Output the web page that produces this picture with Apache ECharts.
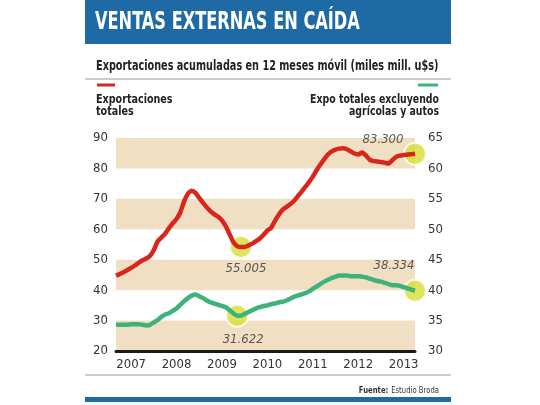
<!DOCTYPE html>
<html><head><meta charset="utf-8">
<script src="https://cdn.jsdelivr.net/npm/echarts@6/dist/echarts.min.js"></script>
<style>html,body{margin:0;padding:0;background:#fff}#c{width:540px;height:405px}</style>
</head><body><div id="c"></div>
<script>
const FONT = '"Liberation Sans Narrow","DejaVu Sans Condensed","Roboto Condensed",Arial,sans-serif';
// monthly categories, Mar 2007 .. Oct 2013
const months = [];
for (let y = 2007; y <= 2013; y++) for (let m = 1; m <= 12; m++) {
  if ((y === 2007 && m < 3) || (y === 2013 && m > 10)) continue;
  months.push(y + '-' + String(m).padStart(2, '0'));
}
const yearLabels = ['2007','2008','2009','2010','2011','2012','2013'];
const leftTicks = [20,30,40,50,60,70,80,90];
const rightTicks = [30,35,40,45,50,55,60,65];
// Exportaciones totales (miles mill. u$s)
const exportTotal = [44.7,45.3,45.9,46.6,47.3,48.1,49.0,49.8,50.4,51.3,
  53.2,56.0,57.3,58.6,60.4,62.0,63.4,65.6,69.2,71.7,
  72.7,72.0,70.3,68.7,67.2,65.9,64.9,64.1,62.9,61.0,
  58.4,55.8,54.5,54.2,54.2,54.7,55.3,56.1,57.0,58.2,
  59.6,60.5,62.8,64.8,66.4,67.3,68.2,69.3,70.8,72.3,
  73.9,75.5,77.3,79.4,81.3,83.0,84.6,85.6,86.2,86.5,
  86.6,86.3,85.6,84.9,84.6,85.2,84.3,82.9,82.4,82.3,
  82.1,81.9,81.6,82.7,83.8,84.2,84.4,84.6,84.7,84.8];
// Expo totales excluyendo agrícolas y autos
const exportExcl = [34.3,34.3,34.3,34.3,34.4,34.4,34.4,34.3,34.2,34.3,
  34.7,35.1,35.6,36.0,36.2,36.6,37.0,37.6,38.2,38.7,
  39.1,39.3,39.0,38.7,38.3,38.0,37.8,37.6,37.4,37.2,
  36.7,36.2,35.8,35.8,36.1,36.4,36.7,37.0,37.2,37.4,
  37.5,37.7,37.8,38.0,38.1,38.3,38.6,38.9,39.1,39.3,
  39.5,39.8,40.2,40.6,41.0,41.4,41.7,42.0,42.2,42.4,
  42.4,42.4,42.3,42.3,42.3,42.2,42.1,41.9,41.7,41.5,
  41.4,41.2,41.0,40.8,40.8,40.7,40.5,40.3,40.1,39.9];
const redNotes = ['55.005', '83.300'];
const greenNotes = ['31.622', '38.334'];
const troughWindow = ['2009-01', '2010-06'];

function minIdx(a){
  const s = months.indexOf(troughWindow[0]), e = months.indexOf(troughWindow[1]);
  let k = s; for (let i = s; i <= e; i++) if (a[i] < a[k]) k = i; return k;
}
const rMin = minIdx(exportTotal), gMin = minIdx(exportExcl);
const rLast = exportTotal.length-1, gLast = exportExcl.length-1;

const dotStyle = {color:'#d6df33', borderColor:'#fff', borderWidth:2};
const noteLabel = (pos, off) => ({show:true, position:pos, offset:off, fontStyle:'italic',
  fontFamily:FONT, fontSize:13, color:'#333', formatter: p => p.data.note});

const chart = echarts.init(document.getElementById('c'), null, {renderer:'canvas'});
chart.setOption({
  animation:false,
  backgroundColor:'#fff',
  grid:{left:116, right:125, top:138, bottom:54},
  xAxis:{type:'category', data:months, boundaryGap:false,
    axisLine:{show:true, lineStyle:{color:'#1a1a1a', width:3}},
    axisTick:{show:false}, splitLine:{show:false},
    axisLabel:{interval:(i,v)=>v.endsWith('-07'), formatter:v=>v.slice(0,4),
      color:'#333', fontSize:13, fontFamily:FONT, margin:7}},
  yAxis:[
    {type:'value', min:20, max:90, interval:10,
     axisLine:{show:false}, axisTick:{show:false}, splitLine:{show:false},
     splitArea:{show:true, areaStyle:{color:['#f1dfc3','rgba(255,255,255,0)']}},
     axisLabel:{color:'#333', fontSize:13, fontFamily:FONT, margin:8,
       formatter:v=>leftTicks.includes(v)?String(v):''}},
    {type:'value', min:30, max:65, interval:5,
     axisLine:{show:false}, axisTick:{show:false}, splitLine:{show:false},
     axisLabel:{color:'#333', fontSize:13, fontFamily:FONT, margin:13,
       formatter:v=>rightTicks.includes(v)?String(v):''}}
  ],
  series:[
    {type:'scatter', z:2, symbolSize:22, itemStyle:dotStyle, yAxisIndex:0,
     data:[
       {value:[rMin, exportTotal[rMin]], note:redNotes[0], label:noteLabel('bottom',[5,-2])},
       {value:[rLast, exportTotal[rLast]], note:redNotes[1], label:noteLabel('top',[-32,9])}
     ]},
    {type:'scatter', z:2, symbolSize:22, itemStyle:dotStyle, yAxisIndex:1,
     data:[
       {value:[gMin, exportExcl[gMin]], note:greenNotes[0], label:noteLabel('bottom',[6,0])},
       {value:[gLast, exportExcl[gLast]], note:greenNotes[1], label:noteLabel('top',[-21,-2])}
     ]},
    {type:'line', z:5, name:'Exportaciones totales', data:exportTotal, yAxisIndex:0,
     showSymbol:false, smooth:0.2, lineStyle:{color:'#d8261c', width:4.5}},
    {type:'line', z:5, name:'Expo totales excluyendo agrícolas y autos', data:exportExcl, yAxisIndex:1,
     showSymbol:false, smooth:0.2, lineStyle:{color:'#3cb37a', width:4.5}}
  ],
  graphic:[
    {type:'rect', shape:{x:85, y:0, width:366, height:44}, style:{fill:'#1d6aa5'}},
    {type:'text', x:95, y:23, scaleX:0.75, style:{text:'VENTAS EXTERNAS EN CAÍDA', fill:'#fff',
      font:'bold 24px '+FONT, textVerticalAlign:'middle'}},
    {type:'text', x:96, y:66, scaleX:0.77, style:{text:'Exportaciones acumuladas en 12 meses móvil (miles mill. u$s)',
      fill:'#222', font:'bold 14px '+FONT, textVerticalAlign:'middle'}},
    {type:'line', shape:{x1:85, y1:79, x2:451, y2:79}, style:{stroke:'#999', lineWidth:1}},
    {type:'line', shape:{x1:97, y1:85, x2:115, y2:85}, style:{stroke:'#d8261c', lineWidth:3}},
    {type:'line', shape:{x1:418, y1:85, x2:438, y2:85}, style:{stroke:'#3cb37a', lineWidth:3}},
    {type:'text', x:96, y:100, scaleX:0.82, style:{text:'Exportaciones', fill:'#222', font:'bold 13px '+FONT, textVerticalAlign:'middle'}},
    {type:'text', x:96, y:112, scaleX:0.82, style:{text:'totales', fill:'#222', font:'bold 13px '+FONT, textVerticalAlign:'middle'}},
    {type:'text', x:439, y:100, scaleX:0.8, style:{text:'Expo totales excluyendo', fill:'#222', font:'bold 13px '+FONT, textAlign:'right', textVerticalAlign:'middle'}},
    {type:'text', x:439, y:112, scaleX:0.8, style:{text:'agrícolas y autos', fill:'#222', font:'bold 13px '+FONT, textAlign:'right', textVerticalAlign:'middle'}},
    {type:'line', shape:{x1:85, y1:375, x2:451, y2:375}, style:{stroke:'#999', lineWidth:1}},
    {type:'text', x:439, y:391, scaleX:0.85, style:{rich:{b:{font:'bold 9px '+FONT, fill:'#333'}, n:{font:'9px '+FONT, fill:'#333'}},
      text:'{b|Fuente:} {n|Estudio Broda}', textAlign:'right', textVerticalAlign:'middle'}},
    {type:'rect', shape:{x:85, y:397, width:366, height:5}, style:{fill:'#1d6aa5'}}
  ]
});
</script></body></html>
